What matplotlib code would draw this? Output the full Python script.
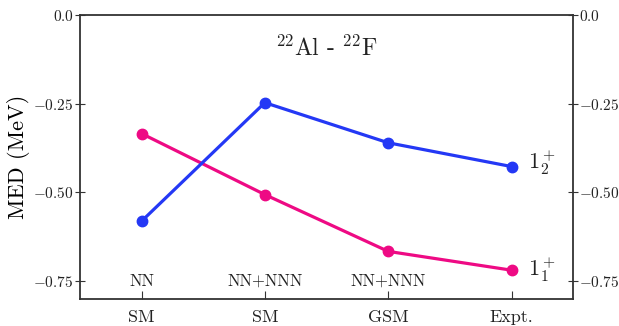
import numpy as np
import matplotlib.pyplot as plt

plt.rcParams['font.family'] = 'serif'
plt.rcParams['font.serif'] = ['cmr10', 'DejaVu Serif']
plt.rcParams['mathtext.fontset'] = 'cm'
plt.rcParams['axes.formatter.use_mathtext'] = True
plt.rcParams['text.color'] = '#222222'
plt.rcParams['xtick.labelcolor'] = '#222222'
plt.rcParams['ytick.labelcolor'] = '#222222'

# data
methods = ["SM", "SM", "GSM", "Expt."]
interactions = ["NN", "NN+NNN", "NN+NNN"]
med_1_1 = [-0.334, -0.506, -0.666, -0.719]
med_1_2 = [-0.581, -0.247, -0.360, -0.427]

x = np.arange(len(methods))

fig, ax = plt.subplots(figsize=(6.19, 3.26), dpi=100)
fig.subplots_adjust(left=0.129, right=0.926, top=0.954, bottom=0.083)

ax.plot(x, med_1_1, color='#ee0a84', marker='o', markersize=7.5, linewidth=2.3)
ax.plot(x, med_1_2, color='#2438f5', marker='o', markersize=7.5, linewidth=2.3)

ax.text(x[-1] + 0.135, med_1_2[-1] + 0.01, r'$1_2^+$', fontsize=16, va='center', ha='left')
ax.text(x[-1] + 0.135, med_1_1[-1], r'$1_1^+$', fontsize=16, va='center', ha='left')
ax.text(1.5, -0.095, r'$^{22}$Al - $^{22}$F', fontsize=17, ha='center', va='center')
for i, lab in enumerate(interactions):
    ax.text(x[i], -0.75, lab, fontsize=12, ha='center', va='center')

ax.set_xlim(-0.5, 3.5)
ax.set_ylim(-0.8, 0.0)
ax.set_xticks(x)
ax.set_xticklabels(methods, fontsize=13)
ax.set_yticks([0.0, -0.25, -0.5, -0.75])
ax.set_yticklabels([r'$0.0$', r'$-0.25$', r'$-0.50$', r'$-0.75$'], fontsize=11)
ax.set_ylabel('MED (MeV)', fontsize=16, labelpad=2)
ax.tick_params(axis='x', direction='in', length=6, pad=8, color='#333333')
ax.tick_params(axis='y', direction='inout', length=7, pad=1, left=True, right=True,
               labelleft=True, labelright=True, color='#333333')
for s in ax.spines.values():
    s.set_linewidth(1.3)
    s.set_color('#333333')

plt.savefig('out.png', dpi=100)
